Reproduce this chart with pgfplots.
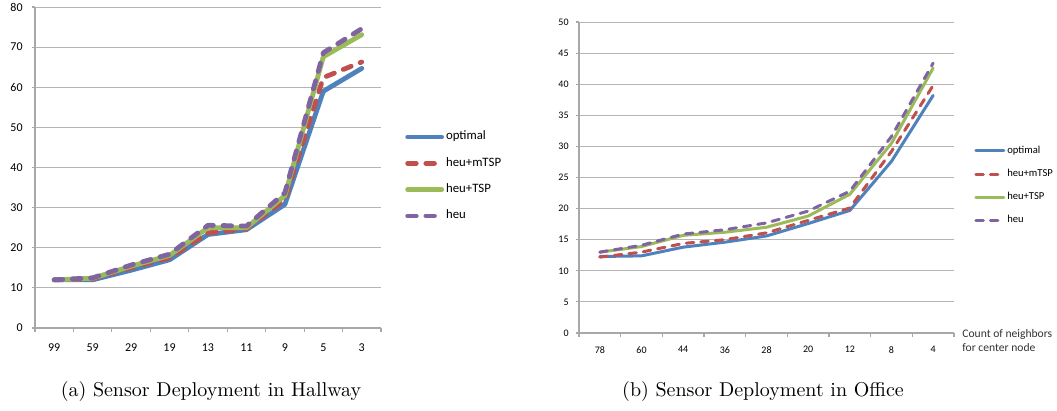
\documentclass[border=0pt]{standalone}
\usepackage{fontspec}
\usepackage{pgfplots}
\pgfplotsset{compat=1.18}
\newfontfamily\calib{Carlito}
\definecolor{cOpt}{HTML}{4F81BD}
\definecolor{cMtsp}{HTML}{C0504D}
\definecolor{cTsp}{HTML}{9BBB59}
\definecolor{cHeu}{HTML}{8064A2}
\definecolor{gridc}{HTML}{B5B5B5}
\definecolor{axc}{HTML}{A8A8A8}

\pgfplotsset{
  excel/.style={
    scale only axis,
    axis lines*=left,
    xmin=-0.5, xmax=8.5,
    xtick={0,...,8},
    minor xtick={-0.5,0.5,...,8.5},
    major x tick style={draw=none},
    tick align=outside,
    major tick length=1.5pt,
    minor tick length=2pt,
    ymin=0,
    ymajorgrids,
    grid style={gridc, line width=0.5pt},
    axis line style={axc, line width=0.6pt},
    tick style={axc, line width=0.6pt},
    /pgf/number format/assume math mode=true,
    legend cell align=left,
    every axis plot/.append style={line join=round, line cap=round},
  }
}

\begin{document}
\begin{tikzpicture}
\useasboundingbox (0,0) rectangle (528.5pt,-205.5pt);

% ---------- (a) Hallway ----------
\begin{axis}[excel,
  at={(17.5pt,-164pt)}, anchor=south west,
  width=173pt, height=160.5pt,
  ymax=80, ytick={0,10,...,80},
  xticklabels={99,59,29,19,13,11,9,5,3},
  tick label style={font=\calib\fontsize{6}{7}\selectfont},
  yticklabel style={inner sep=0pt, xshift=-4.5pt},
  xticklabel style={inner sep=0pt, anchor=north, yshift=-6pt},
  legend style={draw=none, fill=none, at={(1.069,0.472)}, anchor=west,
    font=\calib\fontsize{6.4}{7.5}\selectfont, row sep=5.2pt, inner sep=0pt,
    nodes={inner sep=1pt}},
  legend image code/.code={\draw[#1] (0pt,0pt) -- (17pt,0pt);},
]
\addplot[cOpt, line width=2.4pt] coordinates {(0,12) (1,12) (2,14.4) (3,17) (4,23.3) (5,24.5) (6,30.8) (7,59) (8,64.7)};
\addlegendentry{optimal}
\addplot[cMtsp, line width=2.4pt, dash pattern=on 4.3pt off 4.8pt] coordinates {(0,12) (1,12.2) (2,15) (3,17.5) (4,23.7) (5,24.7) (6,32) (7,62.4) (8,66.3)};
\addlegendentry{heu+mTSP}
\addplot[cTsp, line width=2.4pt] coordinates {(0,12) (1,12.4) (2,15.4) (3,18.1) (4,25) (5,25) (6,33) (7,67.6) (8,73.1)};
\addlegendentry{heu+TSP}
\addplot[cHeu, line width=2.4pt, dash pattern=on 4.3pt off 4.8pt] coordinates {(0,12) (1,12.5) (2,15.7) (3,18.4) (4,25.6) (5,25.4) (6,33.7) (7,68.6) (8,74.6)};
\addlegendentry{heu}
\end{axis}

% ---------- (b) Office ----------
\begin{axis}[excel, name=right,
  at={(289.5pt,-166.5pt)}, anchor=south west,
  width=187.5pt, height=155.5pt,
  ymax=50, ytick={0,5,...,50},
  xticklabels={78,60,44,36,28,20,12,8,4},
  tick label style={font=\calib\fontsize{5}{6}\selectfont},
  yticklabel style={inner sep=0pt, xshift=-3.5pt},
  xticklabel style={inner sep=0pt, anchor=north, yshift=-5pt},
  legend style={draw=none, fill=none, at={(1.053,0.474)}, anchor=west,
    font=\calib\fontsize{5.3}{6.3}\selectfont, row sep=4.4pt, inner sep=0pt,
    nodes={inner sep=1pt}},
  legend image code/.code={\draw[#1] (0pt,0pt) -- (14pt,0pt);},
]
\addplot[cOpt, line width=1.5pt] coordinates {(0,12.3) (1,12.4) (2,13.8) (3,14.6) (4,15.6) (5,17.6) (6,19.7) (7,27.6) (8,38.2)};
\addlegendentry{optimal}
\addplot[cMtsp, line width=1.5pt, dash pattern=on 3.8pt off 3.5pt] coordinates {(0,12.2) (1,13) (2,14.4) (3,15) (4,16.1) (5,18.1) (6,20.1) (7,29.2) (8,39.8)};
\addlegendentry{heu+mTSP}
\addplot[cTsp, line width=1.5pt] coordinates {(0,13) (1,13.9) (2,15.7) (3,16.2) (4,17) (5,18.8) (6,22.3) (7,30.5) (8,42.6)};
\addlegendentry{heu+TSP}
\addplot[cHeu, line width=1.5pt, dash pattern=on 3.8pt off 3.5pt] coordinates {(0,13) (1,14.1) (2,15.9) (3,16.6) (4,17.7) (5,19.6) (6,22.8) (7,31.6) (8,43.4)};
\addlegendentry{heu}
\end{axis}

\node[anchor=base west, inner sep=0pt, font=\calib\fontsize{5.8}{7}\selectfont, text=black!80]
  at ([xshift=4pt, yshift=-2.25pt]right.south east) {Count of neighbors};
\node[anchor=base west, inner sep=0pt, font=\calib\fontsize{5.8}{7}\selectfont, text=black!80]
  at ([xshift=4pt, yshift=-9.25pt]right.south east) {for center node};

% captions
\node[anchor=base, inner sep=0pt] at (105.5pt,-198.5pt) {(a) Sensor Deployment in Hallway};
\node[anchor=base, inner sep=0pt] at (381.5pt,-198.5pt) {(b) Sensor Deployment in Office};
\end{tikzpicture}
\end{document}
